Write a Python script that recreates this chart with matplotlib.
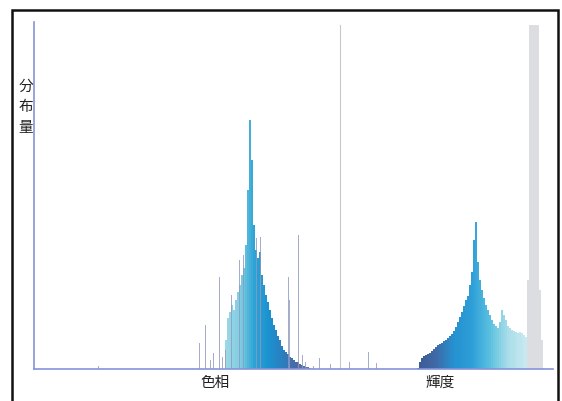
import matplotlib
matplotlib.use("Agg")
import matplotlib.pyplot as plt
from matplotlib.colors import LinearSegmentedColormap
from matplotlib.patches import Rectangle
import numpy as np

plt.rcParams['font.family'] = ['Noto Sans CJK JP', 'DejaVu Sans']

# --- data (x: bin position, y: share of max in %) ---
hue_bins = [192, 194, 196, 198, 200, 202, 204, 206, 208, 210, 212, 214, 216, 218,
            220, 222, 224, 226, 228, 230, 232, 234, 236, 238, 240, 242, 244, 246,
            248, 250, 252, 254, 256, 258, 260, 262, 264, 266, 268, 270, 272, 274, 276]
hue_vals = [8.4, 14.7, 16.4, 18.4, 17.0, 19.9, 22.2, 24.2, 27.1, 29.1, 35.7, 51.6,
            71.8, 60.2, 41.5, 34.3, 32.0, 33.7, 27.1, 24.2, 21.3, 19.3, 17.0, 14.7,
            12.7, 11.2, 9.5, 8.4, 6.6, 5.5, 4.9, 4.3, 3.5, 3.2, 2.6, 2.0, 2.0, 1.4,
            1.2, 0.9, 0.6, 0.6, 0.3]

spike_bins = [64, 165, 171, 176, 179, 185, 188, 191, 197, 205, 209, 222, 226, 254,
              255, 264, 268, 271, 279, 285, 296, 315, 334, 342]
spike_vals = [0.9, 7.5, 12.7, 2.6, 4.6, 26.5, 3.5, 5.5, 21.3, 31.4, 32.9, 37.8, 38.0,
              26.5, 19.9, 38.6, 4.0, 2.0, 0.9, 3.2, 1.4, 2.0, 4.9, 1.7]

lum_bins = list(range(384, 494, 2))
lum_vals = [0.3, 2.0, 3.2, 3.7, 4.0, 4.3, 4.6, 5.2, 5.8, 6.3, 6.9, 7.2, 7.5, 8.1,
            8.4, 8.9, 9.5, 10.1, 11.0, 12.1, 13.5, 15.0, 16.4, 18.2, 19.9, 21.0,
            24.2, 28.0, 37.2, 42.4, 30.8, 25.6, 22.8, 20.5, 18.4, 17.0, 15.6, 14.1,
            13.0, 12.4, 11.8, 13.5, 17.0, 15.6, 14.1, 12.4, 11.8, 11.2, 11.0, 10.7,
            10.4, 10.7, 10.4, 9.8, 9.2]

white_bins = [494, 496, 498, 500, 502, 504, 506, 508]
white_vals = [25.6, 99.1, 99.1, 99.1, 99.1, 99.1, 22.8, 8.4]

x_labels = ['色相', '輝度']
x_label_pos = [181, 406]
split_x = 306

# --- colours ---
hue_cmap = LinearSegmentedColormap.from_list(
    'hue', ['#9ad8e6', '#7fcde2', '#2ea3d6', '#1a93cf', '#2a7fc0', '#4a6aa6', '#6a78a8'])
lum_cmap = LinearSegmentedColormap.from_list(
    'lum', ['#3d5a92', '#3f6aa8', '#2691d0', '#2d9ed8', '#5bc0df', '#a8dde9', '#c9e9f0'])

fig = plt.figure(figsize=(5.62, 4.01), dpi=100)
ax = fig.add_axes([34 / 562, 32 / 401, 519 / 562, 347 / 401])

hb = np.array(hue_bins)
hue_cols = hue_cmap((hb - hb.min()) / (hb.max() - hb.min()))
ax.bar(hue_bins, hue_vals, width=1.6, color=hue_cols, align='center', linewidth=0)

# thin single-bin spikes
ax.bar(spike_bins, spike_vals, width=1.0, color='#8e9abf', alpha=0.8, linewidth=0,
       zorder=3)

lb = np.array(lum_bins)
lum_cols = lum_cmap((lb - lb.min()) / (lb.max() - lb.min()))
ax.bar(lum_bins, lum_vals, width=2.0, color=lum_cols, align='center', linewidth=0)
ax.bar(white_bins, white_vals, width=2.0, color='#dcdde0', align='center', linewidth=0)

ax.axvline(split_x, ymin=0, ymax=0.991, color='#c8c8cc', lw=0.8)

ax.set_xlim(0, 519)
ax.set_ylim(0, 100)
ax.set_xticks([])
ax.set_yticks([])
for s in ['top', 'right']:
    ax.spines[s].set_visible(False)
for s in ['left', 'bottom']:
    ax.spines[s].set_color('#8494d8')
    ax.spines[s].set_linewidth(1.2)

for lab, xp in zip(x_labels, x_label_pos):
    ax.text(xp, -4.0, lab, ha='center', va='center', fontsize=10.5, color='#222222')

fig.text(26 / 562, 1 - 107 / 401, '分\n布\n量', ha='center', va='center',
         fontsize=10.5, linespacing=1.6, color='#222222')

# outer frame
fig.patches.append(Rectangle((12 / 562, -0.05), 546 / 562, 1.05 - 10 / 401,
                             transform=fig.transFigure, fill=False,
                             edgecolor='#111111', lw=1.8))

fig.savefig('out.png', dpi=100)
